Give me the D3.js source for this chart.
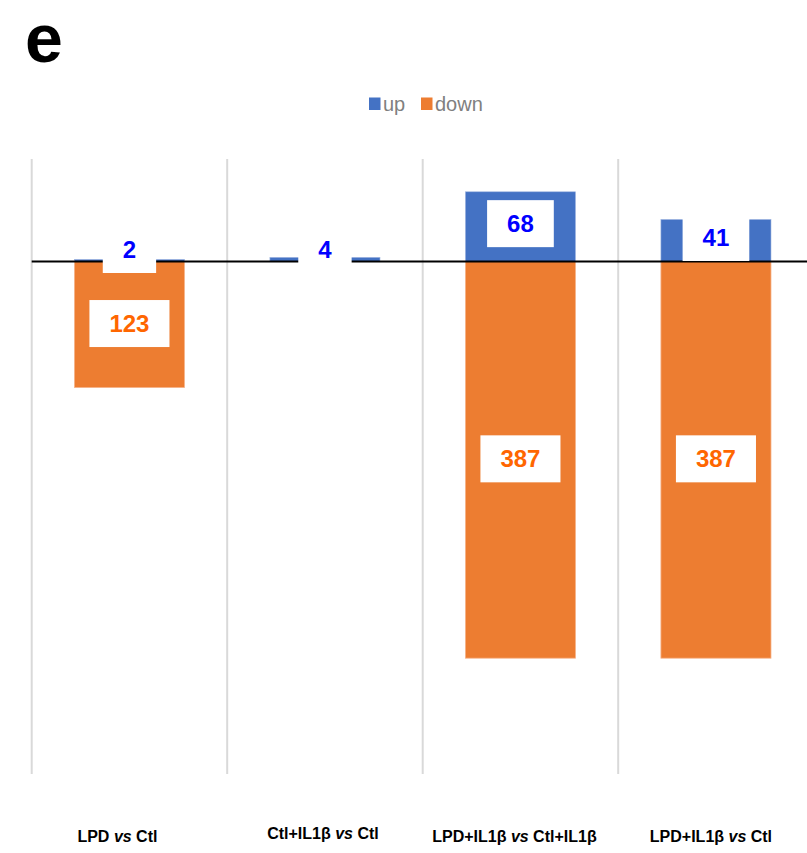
<!DOCTYPE html>
<html><head><meta charset="utf-8">
<script src="https://cdn.jsdelivr.net/npm/d3@7"></script>
<style>body{margin:0;background:#fff}svg{display:block}</style>
</head><body>
<svg id="c" width="807" height="853"></svg>
<script>
const categories = ["LPD vs Ctl", "Ctl+IL1β vs Ctl", "LPD+IL1β vs Ctl+IL1β", "LPD+IL1β vs Ctl"];
const upValues = [2, 4, 68, 41];
const downValues = [123, 0, 387, 387];
const seriesNames = ["up", "down"];

const colors = {up: "#4472C4", down: "#ED7D31", upText: "#0000FF", downText: "#FF6600"};
const labelNudge = [-12, -2, -6, -5];
const labelDy = [0, -3, 0, 0];

const svg = d3.select("#c");
const font = "'Liberation Sans', Arial, sans-serif";

const x = d3.scaleBand().domain(categories).range([31.7, 813.7]).paddingInner(0.437).paddingOuter(0.437/2);
const y = d3.scaleLinear().domain([-500, 100]).range([774, 159]);

// vertical gridlines at band boundaries
const step = x.step();
const bounds = d3.range(categories.length + 1).map(i => 31.7 + i * step);
svg.append("g").selectAll("line").data(bounds).join("line")
  .attr("x1", d => d).attr("x2", d => d)
  .attr("y1", y(100)).attr("y2", y(-500))
  .attr("stroke", "#d9d9d9").attr("stroke-width", 2);

// bars
const up = categories.map((c, i) => ({c, v: upValues[i]}));
const down = categories.map((c, i) => ({c, v: downValues[i]}));
svg.append("g").selectAll("rect").data(down.filter(d => d.v > 0)).join("rect")
  .attr("x", d => x(d.c)).attr("width", x.bandwidth())
  .attr("y", y(0)).attr("height", d => y(-d.v) - y(0))
  .attr("fill", colors.down).attr("stroke", "#f6b38a").attr("stroke-width", 0.8);
svg.append("g").selectAll("rect").data(up).join("rect")
  .attr("x", d => x(d.c)).attr("width", x.bandwidth())
  .attr("y", d => y(d.v)).attr("height", d => y(0) - y(d.v))
  .attr("fill", colors.up).attr("stroke", "#9db4e0").attr("stroke-width", 0.6);

// zero line
svg.append("line").attr("x1", 31.7).attr("x2", 807).attr("y1", y(0)).attr("y2", y(0))
  .attr("stroke", "#000").attr("stroke-width", 2.2);

// data labels with white boxes
function addLabel(cx, cy, text, color) {
  const g = svg.append("g");
  const r = g.append("rect").attr("fill", "#fff");
  const t = g.append("text").attr("x", cx).attr("y", cy).attr("dy", "0.36em")
    .attr("text-anchor", "middle").attr("font-family", font).attr("font-weight", "bold")
    .attr("font-size", 24).attr("fill", color).text(text);
  const w = t.node().getComputedTextLength() + 40;
  r.attr("x", cx - w / 2).attr("width", w).attr("y", cy - 23.5).attr("height", 47);
}
up.forEach(d => {
  const cx = x(d.c) + x.bandwidth() / 2;
  const cy = Math.min(y(d.v / 2) - 3, y(0) - 12);
  addLabel(cx, cy, d.v, colors.upText);
});
down.filter(d => d.v > 0).forEach(d => {
  const cx = x(d.c) + x.bandwidth() / 2;
  const cy = y(-d.v / 2) - 1;
  addLabel(cx, cy, d.v, colors.downText);
});

// category labels
categories.forEach((c, i) => {
  const parts = c.split(" vs ");
  const t = svg.append("text").attr("x", x(c) + x.bandwidth() / 2 + labelNudge[i])
    .attr("y", 841.5 + labelDy[i]).attr("text-anchor", "middle")
    .attr("font-family", font).attr("font-weight", "bold").attr("font-size", 16).attr("fill", "#000");
  t.append("tspan").text(parts[0] + " ");
  t.append("tspan").attr("font-style", "italic").text("vs");
  t.append("tspan").text(" " + parts[1]);
});

// legend
const legend = [{n: seriesNames[0], c: colors.up, x: 369}, {n: seriesNames[1], c: colors.down, x: 421}];
legend.forEach(l => {
  svg.append("rect").attr("x", l.x).attr("y", 97.5).attr("width", 11.5).attr("height", 12.5).attr("fill", l.c);
  svg.append("text").attr("x", l.x + 14).attr("y", 111).attr("font-family", font)
    .attr("font-size", 20).attr("fill", "#808080").text(l.n);
});

// panel letter
svg.append("text").attr("x", 25).attr("y", 62).attr("font-family", font).attr("font-weight", "bold")
  .attr("font-size", 68).attr("fill", "#000").text("e");
</script>
</body></html>
